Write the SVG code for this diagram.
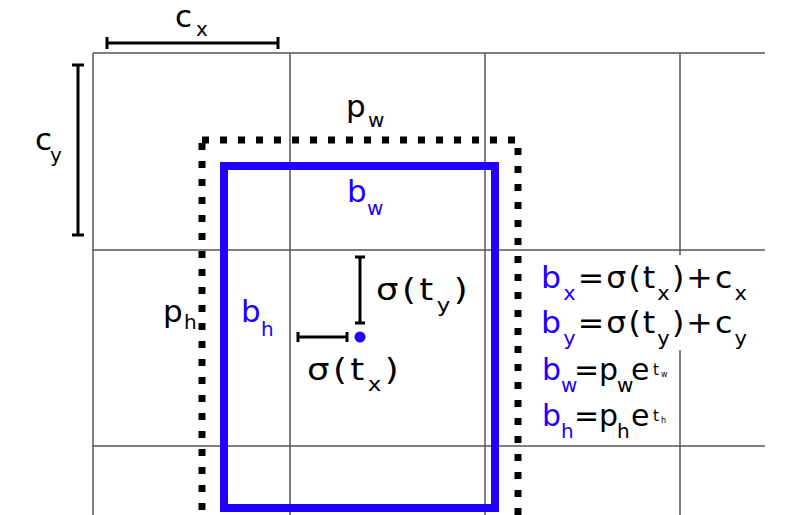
<svg xmlns="http://www.w3.org/2000/svg" width="809" height="515" viewBox="0 0 809 515">
<style>
.grid{stroke:#555;stroke-width:1.5;fill:none}
.br{stroke:#000;stroke-width:3;fill:none}
.t{font-family:"DejaVu Sans",sans-serif;font-size:31px;fill:#000}
.s{font-size:20px}
.blue{fill:#2200ff}
.f{font-family:"DejaVu Sans",sans-serif;font-size:30px;fill:#000}
</style>
<rect x="0" y="0" width="809" height="515" fill="#fff"/>
<g id="grid">
<path class="grid" d="M93,53H765M93,250H765M93,446H765M93,53V515M290,53V515M485,53V515M680,53V515"/>
</g>
<g id="anchor-box">
<rect x="202" y="140" width="316" height="400" fill="none" stroke="#000" stroke-width="7" stroke-dasharray="7 11"/>
<text class="t" x="346" y="117">p<tspan class="s" x="368" y="127">w</tspan></text>
<text class="t" x="163" y="322">p<tspan class="s" x="184" y="329">h</tspan></text>
</g>
<g id="pred-box">
<rect x="224" y="166" width="271" height="342" fill="none" stroke="#2200ff" stroke-width="8"/>
<text class="t blue" x="347" y="202">b<tspan class="s" x="367" y="215">w</tspan></text>
<text class="t blue" x="241" y="322">b<tspan class="s" x="261" y="336">h</tspan></text>
</g>
<g id="connectors">
<path class="br" d="M107,43H278M107,37V49M278,37V49"/>
<path class="br" d="M78,65V235M72,65H84M72,235H84"/>
<path class="br" d="M360,257V323M355,257H365M355,323H365"/>
<path class="br" d="M298,337H347M298,332V342M347,332V342"/>
</g>
<g id="cx-label"><text class="t" x="175" y="27">c<tspan class="s" x="196" y="36">x</tspan></text></g>
<g id="cy-label"><text class="t" x="35" y="150">c<tspan class="s" x="50" y="162">y</tspan></text></g>
<g id="center">
<circle cx="360" cy="337" r="5.5" fill="#2200ff"/>
<text class="t" x="376" y="300" letter-spacing="3" textLength="95" lengthAdjust="spacingAndGlyphs">σ(t<tspan class="s" dy="12">y</tspan><tspan dy="-12">)</tspan></text>
<text class="t" x="307" y="380" letter-spacing="3" textLength="95" lengthAdjust="spacingAndGlyphs">σ(t<tspan class="s" dy="11">x</tspan><tspan dy="-11">)</tspan></text>
</g>
<g id="formulas">
<rect x="526" y="255" width="236" height="95" fill="#fff"/>
<text class="f" x="541" y="288" letter-spacing="2" textLength="208" lengthAdjust="spacingAndGlyphs"><tspan class="blue">b</tspan><tspan class="s blue" dy="12">x</tspan><tspan dy="-12">=σ(t</tspan><tspan class="s" dy="12">x</tspan><tspan dy="-12">)+c</tspan><tspan class="s" dy="12">x</tspan></text>
<text class="f" x="541" y="333" letter-spacing="2" textLength="208" lengthAdjust="spacingAndGlyphs"><tspan class="blue">b</tspan><tspan class="s blue" dy="12">y</tspan><tspan dy="-12">=σ(t</tspan><tspan class="s" dy="12">y</tspan><tspan dy="-12">)+c</tspan><tspan class="s" dy="12">y</tspan></text>
<text class="f" y="380"><tspan class="blue" x="542">b</tspan><tspan class="s blue" x="561" y="392">w</tspan><tspan x="574" y="380">=</tspan><tspan x="599">p</tspan><tspan class="s" x="617" y="392">w</tspan><tspan x="631" y="380">e</tspan><tspan font-size="15" x="653" y="375">t</tspan><tspan font-size="8" x="661" y="377">w</tspan></text>
<text class="f" y="426"><tspan class="blue" x="542">b</tspan><tspan class="s blue" x="561" y="438">h</tspan><tspan x="574" y="426">=</tspan><tspan x="599">p</tspan><tspan class="s" x="617" y="438">h</tspan><tspan x="631" y="426">e</tspan><tspan font-size="15" x="653" y="421">t</tspan><tspan font-size="8" x="661" y="423">h</tspan></text>
</g>
</svg>
